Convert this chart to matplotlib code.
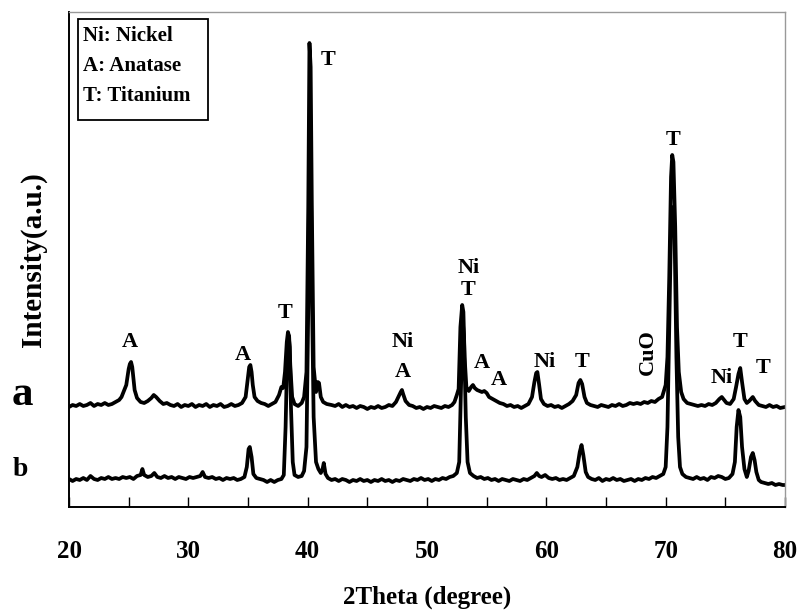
import numpy as np
import matplotlib.pyplot as plt
from matplotlib.patches import Rectangle

plt.rcParams['font.family'] = 'Liberation Serif'
plt.rcParams['font.weight'] = 'bold'

# trace a (upper pattern), 2theta in degree, intensity in a.u.
a_theta = [20.0, 20.3, 20.6, 20.9, 21.2, 21.5, 21.8, 22.1, 22.4, 22.7, 23.0, 23.3, 23.6, 23.9,
           24.2, 24.4, 24.6, 24.8, 24.9, 25.0, 25.1, 25.2, 25.3, 25.4, 25.5, 25.7, 26.0, 26.3,
           26.6, 26.9, 27.1, 27.3, 27.6, 27.9, 28.2, 28.5, 28.8, 29.1, 29.4, 29.7, 30.0, 30.3,
           30.6, 30.9, 31.2, 31.5, 31.8, 32.1, 32.4, 32.7, 33.0, 33.3, 33.6, 33.9, 34.2, 34.5,
           34.8, 34.95, 35.1, 35.2, 35.3, 35.4, 35.55, 35.8, 36.1, 36.4, 36.7, 37.0, 37.3, 37.6,
           37.8, 37.95, 38.1, 38.25, 38.35, 38.45, 38.55, 38.7, 38.9, 39.2, 39.5, 39.7, 39.9,
           40.05, 40.15, 40.25, 40.35, 40.5, 40.7, 40.85, 40.95, 41.1, 41.3, 41.6, 42.0, 42.3,
           42.6, 42.9, 43.2, 43.5, 43.8, 44.1, 44.4, 44.7, 45.0, 45.3, 45.6, 45.9, 46.2, 46.5,
           46.8, 47.1, 47.4, 47.6, 47.8, 47.9, 48.0, 48.2, 48.5, 48.8, 49.1, 49.4, 49.7, 50.0,
           50.3, 50.6, 50.9, 51.2, 51.5, 51.8, 52.1, 52.3, 52.5, 52.65, 52.8, 52.95, 53.05, 53.15,
           53.3, 53.5, 53.7, 53.85, 54.0, 54.2, 54.4, 54.6, 54.8, 55.0, 55.2, 55.5, 55.8, 56.1,
           56.4, 56.7, 57.0, 57.3, 57.6, 57.9, 58.2, 58.5, 58.8, 59.0, 59.15, 59.25, 59.4, 59.55,
           59.8, 60.1, 60.4, 60.7, 61.0, 61.3, 61.6, 61.9, 62.2, 62.5, 62.7, 62.85, 63.0, 63.2,
           63.4, 63.7, 64.0, 64.3, 64.6, 64.9, 65.2, 65.5, 65.8, 66.1, 66.4, 66.7, 67.0, 67.3,
           67.6, 67.9, 68.2, 68.5, 68.8, 69.1, 69.4, 69.7, 69.9, 70.0, 70.15, 70.3, 70.45, 70.55,
           70.65, 70.8, 70.95, 71.1, 71.3, 71.5, 71.8, 72.1, 72.4, 72.7, 73.0, 73.3, 73.6, 73.9,
           74.2, 74.5, 74.7, 74.9, 75.1, 75.4, 75.7, 75.9, 76.1, 76.25, 76.4, 76.6, 76.8, 77.0,
           77.3, 77.5, 77.8, 78.1, 78.4, 78.7, 79.0, 79.3, 79.6, 80.0]
a_int = [100, 102, 101, 103, 101, 102, 104, 101, 103, 102, 104, 102, 103, 105,
         107, 110, 116, 122, 130, 138, 143, 145, 140, 128, 117, 109, 105, 104,
         106, 109, 112, 110, 106, 103, 104, 102, 101, 103, 100, 102, 101, 103,
         100, 102, 101, 103, 100, 102, 101, 103, 100, 101, 103, 101, 102, 104,
         110, 125, 140, 142, 135, 122, 110, 106, 104, 103, 101, 103, 105, 112,
         120, 119, 135, 165, 175, 170, 140, 110, 103, 101, 104, 110, 135,
         300, 464, 440, 300, 140, 115, 125, 124, 110, 105, 103, 102, 101,
         103, 100, 102, 100, 101, 99, 101, 100, 98, 100, 99, 101, 99, 100,
         102, 101, 105, 110, 115, 117, 113, 106, 102, 101, 99, 100, 98, 100,
         99, 101, 100, 99, 101, 100, 102, 105, 112, 118, 180, 202, 195, 150,
         120, 116, 120, 122, 119, 117, 116, 115, 116, 114, 110, 108, 106, 104,
         103, 101, 102, 100, 101, 99, 101, 103, 110, 125, 134, 135, 122, 108,
         103, 101, 102, 100, 101, 99, 101, 103, 106, 112, 124, 127, 123, 110,
         104, 102, 101, 100, 102, 101, 100, 102, 101, 103, 101, 102, 104, 103,
         104, 103, 105, 104, 106, 105, 108, 110, 118, 122, 150, 230, 330, 352,
         345, 280, 180, 135, 115, 108, 104, 103, 102, 101, 102, 101, 103, 102,
         104, 108, 110, 107, 104, 103, 108, 120, 133, 139, 125, 108, 104, 106,
         110, 106, 102, 101, 100, 102, 100, 101, 99, 100]

# trace b (lower pattern)
b_theta = [20.0, 20.3, 20.6, 20.9, 21.2, 21.5, 21.8, 22.1, 22.4, 22.7, 23.0, 23.3, 23.6, 23.9,
           24.2, 24.5, 24.8, 25.1, 25.4, 25.7, 26.0, 26.15, 26.3, 26.6, 26.9, 27.15, 27.4, 27.7,
           28.0, 28.3, 28.6, 28.9, 29.2, 29.5, 29.8, 30.1, 30.4, 30.7, 31.0, 31.2, 31.4, 31.7,
           32.0, 32.3, 32.6, 32.9, 33.2, 33.5, 33.8, 34.1, 34.4, 34.7, 34.9, 35.05, 35.15, 35.3,
           35.45, 35.7, 36.0, 36.3, 36.6, 36.9, 37.2, 37.5, 37.8, 38.0, 38.15, 38.3, 38.4, 38.5,
           38.6, 38.75, 38.9, 39.2, 39.5, 39.7, 39.9, 40.05, 40.15, 40.25, 40.35, 40.5, 40.7,
           40.9, 41.1, 41.25, 41.35, 41.5, 41.7, 42.0, 42.3, 42.6, 42.9, 43.2, 43.5, 43.8, 44.1,
           44.4, 44.7, 45.0, 45.3, 45.6, 45.9, 46.2, 46.5, 46.8, 47.1, 47.4, 47.7, 48.0, 48.3,
           48.6, 48.9, 49.2, 49.5, 49.8, 50.1, 50.4, 50.7, 51.0, 51.3, 51.6, 51.9, 52.2, 52.5,
           52.7, 52.85, 53.0, 53.1, 53.25, 53.4, 53.6, 53.9, 54.2, 54.5, 54.8, 55.1, 55.4, 55.7,
           56.0, 56.3, 56.6, 56.9, 57.2, 57.5, 57.8, 58.1, 58.4, 58.7, 59.0, 59.2, 59.4, 59.6,
           59.9, 60.2, 60.5, 60.8, 61.1, 61.4, 61.7, 62.0, 62.3, 62.6, 62.8, 62.95, 63.1, 63.3,
           63.5, 63.8, 64.1, 64.4, 64.7, 65.0, 65.3, 65.6, 65.9, 66.2, 66.5, 66.8, 67.1, 67.4,
           67.7, 68.0, 68.3, 68.6, 68.9, 69.2, 69.5, 69.8, 70.0, 70.15, 70.3, 70.45, 70.6, 70.75,
           70.9, 71.05, 71.2, 71.4, 71.7, 72.0, 72.3, 72.6, 72.9, 73.2, 73.5, 73.8, 74.1, 74.4,
           74.7, 75.0, 75.3, 75.6, 75.8, 75.95, 76.1, 76.25, 76.4, 76.6, 76.8, 76.95, 77.15, 77.3,
           77.45, 77.6, 77.8, 78.0, 78.3, 78.6, 78.9, 79.2, 79.5, 79.8, 80.0]
b_int = [28, 26, 28, 27, 29, 27, 31, 28, 27, 29, 28, 30, 28, 29,
         28, 30, 29, 30, 28, 31, 32, 38, 32, 30, 31, 34, 30, 29,
         31, 29, 30, 28, 30, 29, 28, 30, 29, 30, 31, 35, 30, 29,
         30, 28, 29, 27, 29, 28, 29, 27, 28, 30, 40, 58, 60, 50,
         33, 29, 28, 27, 25, 27, 25, 27, 28, 32, 80, 160, 172, 160,
         100, 45, 32, 30, 31, 36, 60, 200, 380, 360, 220, 90, 45,
         38, 34, 38, 44, 33, 29, 27, 28, 26, 28, 27, 25, 27, 26,
         28, 26, 27, 25, 27, 26, 28, 26, 27, 25, 27, 26, 28, 27,
         26, 28, 27, 29, 27, 28, 26, 28, 27, 29, 28, 30, 31, 34,
         45, 120, 185, 170, 90, 45, 34, 31, 29, 30, 28, 29, 27, 28,
         26, 28, 27, 26, 28, 27, 26, 28, 27, 29, 31, 34, 31, 30,
         32, 29, 28, 29, 27, 28, 27, 29, 31, 40, 55, 62, 52, 35,
         30, 28, 27, 29, 26, 28, 27, 29, 27, 28, 26, 27, 28, 26,
         28, 27, 29, 28, 30, 29, 31, 33, 40, 80, 180, 280, 300, 270,
         150, 70, 40, 33, 30, 29, 28, 30, 28, 29, 27, 30, 29, 31,
         30, 28, 29, 33, 45, 80, 97, 90, 60, 38, 30, 36, 50, 54,
         47, 35, 27, 25, 24, 23, 24, 22, 23, 22, 22]

# peak labels: (text, 2theta, intensity, rotation)
peak_labels = [("A", 25.1, 165, 0), ("A", 34.6, 152, 0), ("T", 38.1, 194, 0),
               ("T", 41.7, 447, 0), ("Ni", 48.0, 165, 0), ("A", 48.0, 135, 0),
               ("Ni", 53.5, 239, 0), ("T", 53.4, 217, 0), ("A", 54.6, 144, 0),
               ("A", 56.0, 127, 0), ("Ni", 59.9, 145, 0), ("T", 63.0, 145, 0),
               ("CuO", 68.5, 155, 90), ("T", 70.6, 367, 0), ("Ni", 74.7, 129, 0),
               ("T", 76.25, 165, 0), ("T", 78.2, 139, 0)]

legend_lines = ["Ni: Nickel", "A: Anatase", "T: Titanium"]

fig = plt.figure(figsize=(7.99, 6.15), dpi=100)
ax = fig.add_axes([69 / 799, 1 - 507 / 615, 716 / 799, 495 / 615])

ax.plot(a_theta, a_int, color="black", lw=2.7, solid_joinstyle="round")
ax.plot(b_theta, b_int, color="black", lw=2.7, solid_joinstyle="round")

for txt, x, y, rot in peak_labels:
    ax.text(x, y, txt, ha="center", va="center", rotation=rot, fontsize=16, fontweight="bold")

ax.set_xlim(20, 80)
ax.set_ylim(0, 495)
ax.set_xticks([20, 30, 40, 50, 60, 70, 80])
ax.set_xticks([25, 35, 45, 55, 65, 75], minor=True)
ax.tick_params(axis="x", which="both", direction="in", length=7, width=1, pad=24, labelsize=18)
ax.set_yticks([])
ax.set_xlabel("2Theta (degree)", fontsize=18, fontweight="bold", labelpad=16)
ax.set_ylabel("Intensity(a.u.)", fontsize=21, fontweight="bold", labelpad=16)

for s in ["top", "right"]:
    ax.spines[s].set_color("#999999")
    ax.spines[s].set_linewidth(1)
for s in ["left", "bottom"]:
    ax.spines[s].set_linewidth(1.4)

ax.add_patch(Rectangle((0.0126, 0.782), 0.181, 0.204, transform=ax.transAxes,
                       fill=False, edgecolor="black", lw=1.3))
for i, line in enumerate(legend_lines):
    ax.text(0.0196, 0.951 - i * 0.06, line, transform=ax.transAxes,
            ha="left", va="center", fontsize=15, fontweight="bold")

fig.text(22 / 799, 1 - 395 / 615, "a", ha="center", va="center", fontsize=31, fontweight="bold")
fig.text(20 / 799, 1 - 470 / 615, "b", ha="center", va="center", fontsize=20, fontweight="bold")

fig.savefig("out.png", dpi=100)
